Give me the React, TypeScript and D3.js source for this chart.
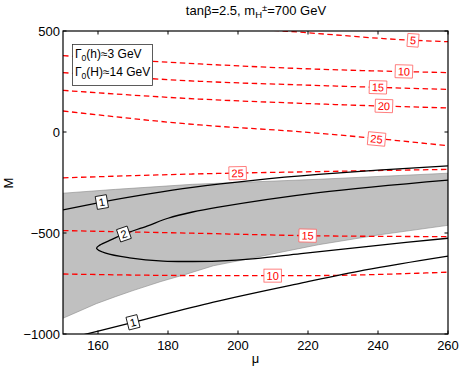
import React from "react";
import * as d3 from "d3";

const muTicks = [160, 180, 200, 220, 240, 260];
const mTicks = [-1000, -500, 0, 500];

// red dashed contours, [mu, M]
const red5 = [[205, 509], [213, 500], [250, 454], [260, 447]];
const red10 = [[150, 378], [189, 337], [218, 314], [260, 294]];
const red15 = [[150, 294], [189, 251], [218, 233], [260, 211]];
const red20 = [[150, 206], [189, 163], [218, 142], [260, 119]];
const red25a = [[150, 104], [189, 35], [218, 1], [260, -68]];
const red25b = [[150, -227], [187, -208], [223, -196], [260, -185]];
const red15b = [[150, -488], [187, -501], [223, -514], [260, -518]];
const red10b = [[150, -703], [193, -711], [218, -711], [260, -694]];
const redLines = [red5, red10, red15, red20, red25a, red25b, red15b, red10b];
const redLevels = ["5", "10", "15", "20", "25", "25", "15", "10"];
const redLabelMu = [250, 247.4, 240, 241.7, 239.6, 199.9, 219.9, 209.9];

// black solid contours
const black1a = [[150, -386], [161, -347], [175, -305], [187, -274], [205, -238], [223, -210], [240, -189], [260, -168]];
const black1b = [[156, -1003], [170, -942], [193, -842], [218, -748], [236, -684], [260, -614]];
const black2 = [
  [260, -238], [223, -300], [194, -373], [187, -396], [180, -427], [174, -466], [167.4, -505],
  [164, -532], [160.5, -560], [159.6, -576], [162.2, -600], [169, -623], [178.6, -639],
  [187, -641], [194, -639], [205, -627], [218, -602], [240, -561], [260, -526],
];
const blackLines = [black1a, black2, black1b];
const blackLevels = ["1", "2", "1"];
const blackLabelMu = [161.1, 167.4, 170];

// shaded band
const grayTop = [[150, -303], [165, -284], [187, -259], [223, -234], [260, -204]];
const grayBottom = [
  [150, -922], [159.5, -850], [165, -815], [170, -785], [178, -740], [185, -705],
  [193, -662], [203, -628], [212, -596], [223, -558], [240, -510], [260, -462],
];

const W = 463;
const H = 370;
const x = d3.scaleLinear().domain([150, 260]).range([63, 448]);
const y = d3.scaleLinear().domain([-1000, 500]).range([334, 31]);

const font = "Liberation Sans, Arial, Helvetica, sans-serif";

function labelAt(pts, mu) {
  for (let i = 0; i < pts.length - 1; i++) {
    const a = pts[i], b = pts[i + 1];
    if (a[0] !== b[0] && (a[0] - mu) * (b[0] - mu) <= 0) {
      const t = (mu - a[0]) / (b[0] - a[0]);
      const m = a[1] + t * (b[1] - a[1]);
      let ang = (Math.atan2(y(b[1]) - y(a[1]), x(b[0]) - x(a[0])) * 180) / Math.PI;
      if (ang > 90) ang -= 180;
      if (ang < -90) ang += 180;
      return { px: x(mu), py: y(m), ang };
    }
  }
  return { px: 0, py: 0, ang: 0 };
}

const Label = ({ pts, mu, text, color, border }) => {
  const p = labelAt(pts, mu);
  const w = text.length * 6.2 + 5;
  const h = 13;
  return (
    <g transform={`translate(${p.px},${p.py}) rotate(${p.ang})`}>
      <rect x={-w / 2} y={-h / 2} width={w} height={h} fill="white" stroke={border} strokeWidth={0.8} />
      <text y={4} textAnchor="middle" fontSize={11} fill={color} fontFamily={font}>
        {text}
      </text>
    </g>
  );
};

export default function App() {
  const line = d3.line().x(d => x(d[0])).y(d => y(d[1])).curve(d3.curveMonotoneX);
  const loop = d3.line().x(d => x(d[0])).y(d => y(d[1])).curve(d3.curveCatmullRom.alpha(0.5));
  const bandPts = [...grayTop, ...grayBottom.slice().reverse()];
  const band = d3.line().x(d => x(d[0])).y(d => y(d[1])).curve(d3.curveLinear)(bandPts) + "Z";

  return (
    <svg width={W} height={H} style={{ position: "absolute", left: 0, top: 0, background: "white" }}>
      <defs>
        <clipPath id="plot">
          <rect x={63} y={31} width={385} height={303} />
        </clipPath>
      </defs>

      <text x={256} y={15} textAnchor="middle" fontSize={13} fontFamily={font}>
        tanβ=2.5, m
        <tspan fontSize={9.5} dy={3}>H</tspan>
        <tspan fontSize={9.5} dy={-7}>±</tspan>
        <tspan dy={4}>=700 GeV</tspan>
      </text>

      <g clipPath="url(#plot)">
        <path d={band} fill="#c0c0c0" stroke="#8c8c8c" strokeWidth={0.6} />
        {redLines.map((pts, i) => (
          <path key={"r" + i} d={line(pts)} fill="none" stroke="#ff0000" strokeWidth={1.3} strokeDasharray="5.5,3.5" />
        ))}
        <path d={line(black1a)} fill="none" stroke="black" strokeWidth={1.3} />
        <path d={loop(black2)} fill="none" stroke="black" strokeWidth={1.3} />
        <path d={line(black1b)} fill="none" stroke="black" strokeWidth={1.3} />
        {redLines.map((pts, i) => (
          <Label key={"rl" + i} pts={pts} mu={redLabelMu[i]} text={redLevels[i]} color="#ff0000" border="#ff6060" />
        ))}
        {blackLines.map((pts, i) => (
          <Label key={"bl" + i} pts={pts} mu={blackLabelMu[i]} text={blackLevels[i]} color="black" border="black" />
        ))}
      </g>

      {/* legend */}
      <rect x={72.5} y={44.5} width={80} height={41} fill="white" stroke="#333" strokeWidth={0.8} />
      <text x={75} y={58} fontSize={12} fontFamily={font}>
        Γ<tspan fontSize={8.5} dy={3}>0</tspan>
        <tspan dy={-3}>(h)≈3 GeV</tspan>
      </text>
      <text x={75} y={76} fontSize={12} fontFamily={font}>
        Γ<tspan fontSize={8.5} dy={3}>0</tspan>
        <tspan dy={-3}>(H)≈14 GeV</tspan>
      </text>

      {/* axes box and ticks */}
      <rect x={63} y={31} width={385} height={303} fill="none" stroke="black" strokeWidth={1.2} />
      {muTicks.map(t => (
        <g key={"x" + t}>
          <line x1={x(t)} x2={x(t)} y1={334} y2={330.5} stroke="black" />
          <line x1={x(t)} x2={x(t)} y1={31} y2={34.5} stroke="black" />
          <text x={x(t)} y={350} textAnchor="middle" fontSize={13} fontFamily={font}>
            {t}
          </text>
        </g>
      ))}
      {mTicks.map(t => (
        <g key={"y" + t}>
          <line x1={63} x2={66.5} y1={y(t)} y2={y(t)} stroke="black" />
          <line x1={448} x2={444.5} y1={y(t)} y2={y(t)} stroke="black" />
          <text x={60} y={y(t) + 4.5} textAnchor="end" fontSize={13} fontFamily={font}>
            {t < 0 ? "\u2212" + Math.abs(t) : t}
          </text>
        </g>
      ))}
      <text x={255.5} y={363} textAnchor="middle" fontSize={13} fontFamily={font}>
        μ
      </text>
      <text transform="translate(13,183) rotate(-90)" textAnchor="middle" fontSize={13} fontFamily={font}>
        M
      </text>
    </svg>
  );
}
